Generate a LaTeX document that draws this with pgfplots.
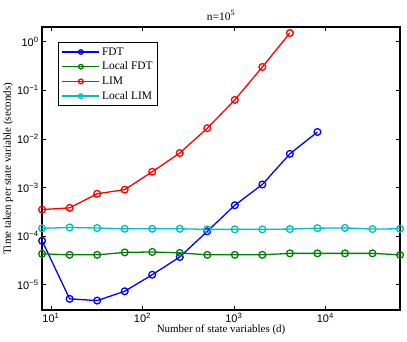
\documentclass[border=0pt]{standalone}
\usepackage{fontspec}
\setmainfont{Liberation Serif}
\setsansfont{Liberation Sans}
\usepackage{pgfplots}
\pgfplotsset{compat=1.18}
\definecolor{mblue}{rgb}{0,0,1}
\definecolor{mgreen}{rgb}{0,0.5,0}
\definecolor{mred}{rgb}{1,0,0}
\definecolor{mcyan}{rgb}{0,0.75,0.75}
\begin{document}
\begin{tikzpicture}
\begin{axis}[
  xmode=log, ymode=log, log basis x=10, log basis y=10,
  scale only axis, width=359pt, height=284pt,
  xmin=8, xmax=65536, ymin=3e-6, ymax=2,
  axis line style={line width=1.3pt},
  tick align=inside,
  major tick length=4pt, minor tick length=2pt,
  every tick/.style={black, line width=0.5pt},
  xtick={10,100,1000,10000},
  ytick={1e-5,1e-4,1e-3,1e-2,1e-1,1},
  xticklabel={\pgfmathtruncatemacro\e{round(\tick)}\sffamily 10\textsuperscript{\ifnum\e<0 −\the\numexpr-\e\relax\else\e\fi}},
  yticklabel={\pgfmathtruncatemacro\e{round(\tick)}\sffamily 10\textsuperscript{\ifnum\e<0 −\the\numexpr-\e\relax\else\e\fi}},
  tick label style={font=\fontsize{11}{13}\selectfont\sffamily},
  xlabel={Number of state variables (d)},
  ylabel={Time taken per state variable (seconds)},
  label style={font=\fontsize{11}{13}\selectfont},
  xlabel style={yshift=5pt},
  ylabel style={yshift=-3pt},
  title={\fontsize{11.5}{13}\selectfont n=10\textsuperscript{5}},
  title style={yshift=-3pt},
  legend style={at={(rel axis cs:0,1)}, anchor=north west, xshift=16pt, yshift=-15pt,
    draw=black, line width=1.3pt, font=\fontsize{11.5}{13}\selectfont, row sep=1.5pt,
    inner sep=3pt},
  legend cell align=left,
  legend image code/.code={\draw[#1, line width=1.5pt, mark=none] (0pt,0pt) -- (37pt,0pt);
    \draw[#1, line width=1.5pt, mark size=2.3pt, mark options={line width=1.3pt}] plot coordinates {(18.5pt,0pt)};},
  every axis plot/.append style={line width=1.3pt, mark=o, mark size=3.4pt, mark options={line width=1.3pt}},
]
\addplot[mblue] coordinates {
(8,8.0e-5) (16,5.1e-6) (32,4.7e-6) (64,7.3e-6) (128,1.6e-5) (256,3.7e-5)
(512,1.25e-4) (1024,4.3e-4) (2048,1.15e-3) (4096,4.9e-3) (8192,1.38e-2)};
\addlegendentry{FDT}
\addplot[mgreen] coordinates {
(8,4.3e-5) (16,4.1e-5) (32,4.1e-5) (64,4.6e-5) (128,4.7e-5) (256,4.5e-5)
(512,4.1e-5) (1024,4.1e-5) (2048,4.1e-5) (4096,4.4e-5) (8192,4.4e-5)
(16384,4.4e-5) (32768,4.4e-5) (65536,4.1e-5)};
\addlegendentry{Local FDT}
\addplot[mred] coordinates {
(8,3.5e-4) (16,3.8e-4) (32,7.4e-4) (64,9.0e-4) (128,2.1e-3) (256,5.1e-3)
(512,1.65e-2) (1024,6.3e-2) (2048,0.30) (4096,1.5)};
\addlegendentry{LIM}
\addplot[mcyan] coordinates {
(8,1.44e-4) (16,1.5e-4) (32,1.46e-4) (64,1.41e-4) (128,1.41e-4) (256,1.41e-4)
(512,1.37e-4) (1024,1.37e-4) (2048,1.37e-4) (4096,1.39e-4) (8192,1.45e-4)
(16384,1.47e-4) (32768,1.39e-4) (65536,1.41e-4)};
\addlegendentry{Local LIM}
\end{axis}
\path ([shift={(-41pt,-32pt)}]current axis.south west) rectangle ([shift={(7pt,27pt)}]current axis.north east);
\end{tikzpicture}
\end{document}
